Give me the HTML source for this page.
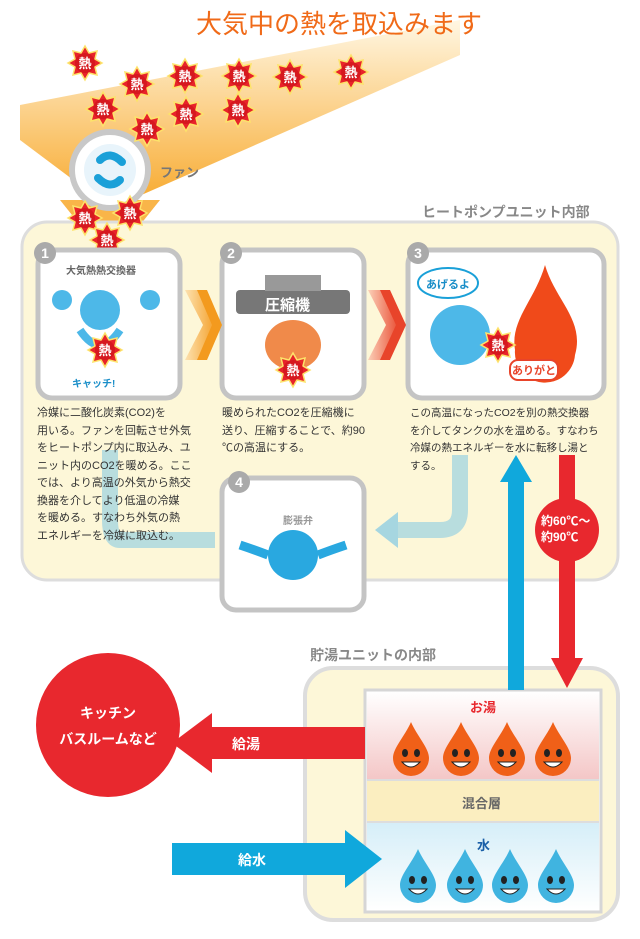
<!DOCTYPE html>
<html><head><meta charset="utf-8"><style>
body{margin:0;width:640px;height:939px;background:#fff;position:relative;overflow:hidden;font-family:"Liberation Sans","Noto Sans CJK JP",sans-serif}
.a{position:absolute}
.t{font-size:11px;line-height:17.5px;color:#333;white-space:nowrap}
</style></head><body>
<svg class="a" style="left:0;top:0" width="640" height="939">
<defs>
<linearGradient id="og" x1="0" y1="0" x2="0" y2="1"><stop offset="0" stop-color="#fff6e0"/><stop offset="1" stop-color="#f7a21b"/></linearGradient>
<linearGradient id="hot" x1="0" y1="0" x2="0" y2="1"><stop offset="0" stop-color="#fff"/><stop offset="1" stop-color="#f4c6c6"/></linearGradient>
<linearGradient id="cold" x1="0" y1="0" x2="0" y2="1"><stop offset="0" stop-color="#d5eef8"/><stop offset="1" stop-color="#fff"/></linearGradient>
<linearGradient id="arr" x1="0" y1="0" x2="1" y2="0"><stop offset="0" stop-color="#fde2b0"/><stop offset="1" stop-color="#f39a1e"/></linearGradient>
<linearGradient id="arr2" x1="0" y1="0" x2="1" y2="0"><stop offset="0" stop-color="#fbd0b8"/><stop offset="1" stop-color="#e8442a"/></linearGradient>
<g id="burst"><polygon points="0,-17 4,-10 12,-12 10,-4 17,0 10,4 12,12 4,10 0,17 -4,10 -12,12 -10,4 -17,0 -10,-4 -12,-12 -4,-10" fill="#e8232a" stroke="#fde36a" stroke-width="1.5"/><circle r="10" fill="#d6181f"/><text y="5" font-size="13" font-weight="bold" fill="#fff" text-anchor="middle" font-family="Noto Sans CJK JP">熱</text></g>
<g id="drop"><path d="M0,-26 C6,-12 18,0 18,10 A18,18 0 0 1 -18,10 C-18,0 -6,-12 0,-26Z"/><ellipse cx="-6" cy="5" rx="3" ry="4" fill="#222"/><ellipse cx="6" cy="5" rx="3" ry="4" fill="#222"/><path d="M-9,14 Q0,24 9,14Z" fill="#fff" stroke="#222"/></g>
</defs>
<polygon points="20,105 460,20 460,55 130,200 100,200 20,140" fill="url(#og)" opacity=".9"/>
<polygon points="60,200 160,200 120,250 100,250" fill="#f7a21b" opacity=".8"/>
<rect x="22" y="222" width="596" height="358" rx="25" fill="#fdf7d8" stroke="#ddd" stroke-width="3"/>
<circle cx="110" cy="170" r="38" fill="#fff" stroke="#c8c8c8" stroke-width="6"/>
<circle cx="110" cy="170" r="26" fill="#e8f4fb"/>
<path d="M100,160 Q110,150 122,162 M120,180 Q110,190 98,178" stroke="#1aa0d8" stroke-width="8" fill="none" stroke-linecap="round"/>
<use href="#burst" x="85" y="63"/><use href="#burst" x="137" y="84"/><use href="#burst" x="185" y="76"/><use href="#burst" x="239" y="76"/><use href="#burst" x="290" y="77"/><use href="#burst" x="351" y="72"/>
<use href="#burst" x="103" y="109"/><use href="#burst" x="186" y="114"/><use href="#burst" x="147" y="129"/><use href="#burst" x="238" y="110"/>
<use href="#burst" x="85" y="218"/><use href="#burst" x="130" y="213"/><use href="#burst" x="107" y="240"/>
<g fill="#fff" stroke="#c4c4c4" stroke-width="5">
<rect x="38" y="250" width="142" height="148" rx="14"/>
<rect x="222" y="250" width="142" height="148" rx="14"/>
<rect x="408" y="250" width="196" height="148" rx="14"/>
<rect x="222" y="478" width="142" height="132" rx="14"/>
</g>
<g fill="#aaa"><circle cx="45" cy="253" r="11"/><circle cx="231" cy="253" r="11"/><circle cx="418" cy="253" r="11"/><circle cx="239" cy="482" r="11"/></g>
<g fill="#fff" font-size="14" font-weight="bold" text-anchor="middle"><text x="45" y="258">1</text><text x="231" y="258">2</text><text x="418" y="258">3</text><text x="239" y="487">4</text></g>
<polygon points="185,290 200,290 218,325 200,360 185,360 203,325" fill="url(#arr)"/>
<polygon points="197,290 207,290 222,325 207,360 197,360 212,325" fill="#f39a1e"/>
<polygon points="368,290 383,290 401,325 383,360 368,360 386,325" fill="url(#arr2)"/>
<polygon points="380,290 390,290 406,325 390,360 380,360 396,325" fill="#e8442a"/>
<path d="M460,455 L460,510 Q460,530 440,530 L390,530" stroke="#a6d6e0" stroke-width="16" fill="none" opacity=".8"/>
<polygon points="375,530 398,512 398,548" fill="#a6d6e0"/>
<path d="M215,540 L120,540 Q110,540 110,520 L110,450" stroke="#a6d6e0" stroke-width="16" fill="none" opacity=".8"/>
<circle cx="100" cy="310" r="20" fill="#4db8e8"/><circle cx="62" cy="300" r="10" fill="#4db8e8"/><circle cx="150" cy="300" r="10" fill="#4db8e8"/>
<path d="M80,330 Q100,360 120,330" stroke="#4db8e8" stroke-width="8" fill="none"/>
<use href="#burst" x="105" y="350"/>
<rect x="236" y="290" width="114" height="24" rx="4" fill="#777"/><rect x="265" y="275" width="56" height="16" fill="#999"/>
<ellipse cx="293" cy="345" rx="28" ry="25" fill="#f08a4a"/>
<use href="#burst" x="293" y="370"/>
<circle cx="460" cy="335" r="30" fill="#4db8e8"/>
<path d="M545,265 C555,300 585,320 575,355 A30,30 0 0 1 515,350 C510,320 535,300 545,265Z" fill="#f04a1a"/>
<use href="#burst" x="498" y="345"/>
<ellipse cx="448" cy="283" rx="30" ry="15" fill="#fff" stroke="#1aa0d8" stroke-width="2"/>
<rect x="510" y="360" width="48" height="20" rx="8" fill="#fff" stroke="#e8442a" stroke-width="2"/>
<circle cx="293" cy="555" r="25" fill="#29a8e0"/>
<path d="M240,545 Q255,550 268,555 M346,545 Q331,550 318,555" stroke="#29a8e0" stroke-width="9" fill="none"/>
<rect x="305" y="668" width="313" height="252" rx="28" fill="#fdf7d8" stroke="#ddd" stroke-width="4"/>
<rect x="365" y="690" width="236" height="222" fill="#fff" stroke="#d6d6d6" stroke-width="3"/>
<rect x="367" y="692" width="232" height="88" fill="url(#hot)"/>
<rect x="367" y="780" width="232" height="42" fill="#fbeec0"/>
<rect x="367" y="822" width="232" height="88" fill="url(#cold)"/>
<line x1="367" y1="780" x2="599" y2="780" stroke="#ddd" stroke-width="2"/><line x1="367" y1="822" x2="599" y2="822" stroke="#ddd" stroke-width="2"/>
<g fill="#f06018"><use href="#drop" x="411" y="748"/><use href="#drop" x="461" y="748"/><use href="#drop" x="507" y="748"/><use href="#drop" x="553" y="748"/></g>
<g fill="#40b4e0"><use href="#drop" x="418" y="875"/><use href="#drop" x="465" y="875"/><use href="#drop" x="510" y="875"/><use href="#drop" x="556" y="875"/></g>
<rect x="508" y="478" width="16" height="212" fill="#10a8dc"/><polygon points="500,482 532,482 516,455" fill="#10a8dc"/>
<rect x="559" y="455" width="16" height="206" fill="#e8282e"/><polygon points="551,658 583,658 567,688" fill="#e8282e"/>
<circle cx="567" cy="530" r="32" fill="#e8282e"/>
<circle cx="108" cy="725" r="72" fill="#e8282e"/>
<rect x="210" y="727" width="155" height="32" fill="#e8282e"/><polygon points="212,713 212,773 172,743" fill="#e8282e"/>
<rect x="172" y="843" width="175" height="32" fill="#10a8dc"/><polygon points="345,830 345,888 382,859" fill="#10a8dc"/>
</svg>
<div class="a" style="left:196px;top:4px;font-size:26px;color:#f06a18">大気中の熱を取込みます</div>
<div class="a" style="left:160px;top:162px;font-size:13px;color:#777;font-weight:bold">ファン</div>
<div class="a" style="left:422px;top:202px;font-size:14px;color:#888;font-weight:bold">ヒートポンプユニット内部</div>
<div class="a" style="left:66px;top:262px;font-size:10px;color:#666;font-weight:bold">大気熱熱交換器</div>
<div class="a" style="left:72px;top:375px;font-size:10px;color:#1a8ec8;font-weight:bold">キャッチ!</div>
<div class="a" style="left:265px;top:294px;font-size:15px;color:#fff;font-weight:bold">圧縮機</div>
<div class="a" style="left:426px;top:276px;font-size:11px;color:#1a8ec8;font-weight:bold">あげるよ</div>
<div class="a" style="left:512px;top:362px;font-size:11px;color:#e8442a;font-weight:bold">ありがと</div>
<div class="a" style="left:283px;top:512px;font-size:10px;color:#999;font-weight:bold">膨張弁</div>
<div class="a t" style="left:37px;top:405px">冷媒に二酸化炭素(CO2)を<br>用いる。ファンを回転させ外気<br>をヒートポンプ内に取込み、ユ<br>ニット内のCO2を暖める。ここ<br>では、より高温の外気から熱交<br>換器を介してより低温の冷媒<br>を暖める。すなわち外気の熱<br>エネルギーを冷媒に取込む。</div>
<div class="a t" style="left:222px;top:405px">暖められたCO2を圧縮機に<br>送り、圧縮することで、約90<br>℃の高温にする。</div>
<div class="a t" style="left:410px;top:405px;font-size:10.5px">この高温になったCO2を別の熱交換器<br>を介してタンクの水を温める。すなわち<br>冷媒の熱エネルギーを水に転移し湯と<br>する。</div>
<div class="a" style="left:541px;top:513px;font-size:12px;line-height:16px;color:#fff;font-weight:bold">約60℃～<br>約90℃</div>
<div class="a" style="left:310px;top:645px;font-size:14px;color:#888;font-weight:bold">貯湯ユニットの内部</div>
<div class="a" style="left:36px;top:700px;width:144px;text-align:center;font-size:14px;line-height:26px;color:#fff;font-weight:bold">キッチン<br>バスルームなど</div>
<div class="a" style="left:232px;top:734px;font-size:14px;color:#fff;font-weight:bold">給湯</div>
<div class="a" style="left:238px;top:850px;font-size:14px;color:#fff;font-weight:bold">給水</div>
<div class="a" style="left:470px;top:697px;font-size:13px;color:#e8282e;font-weight:bold">お湯</div>
<div class="a" style="left:462px;top:793px;font-size:13px;color:#666;font-weight:bold">混合層</div>
<div class="a" style="left:477px;top:835px;font-size:13px;color:#1a5fa8;font-weight:bold">水</div>
</body></html>
